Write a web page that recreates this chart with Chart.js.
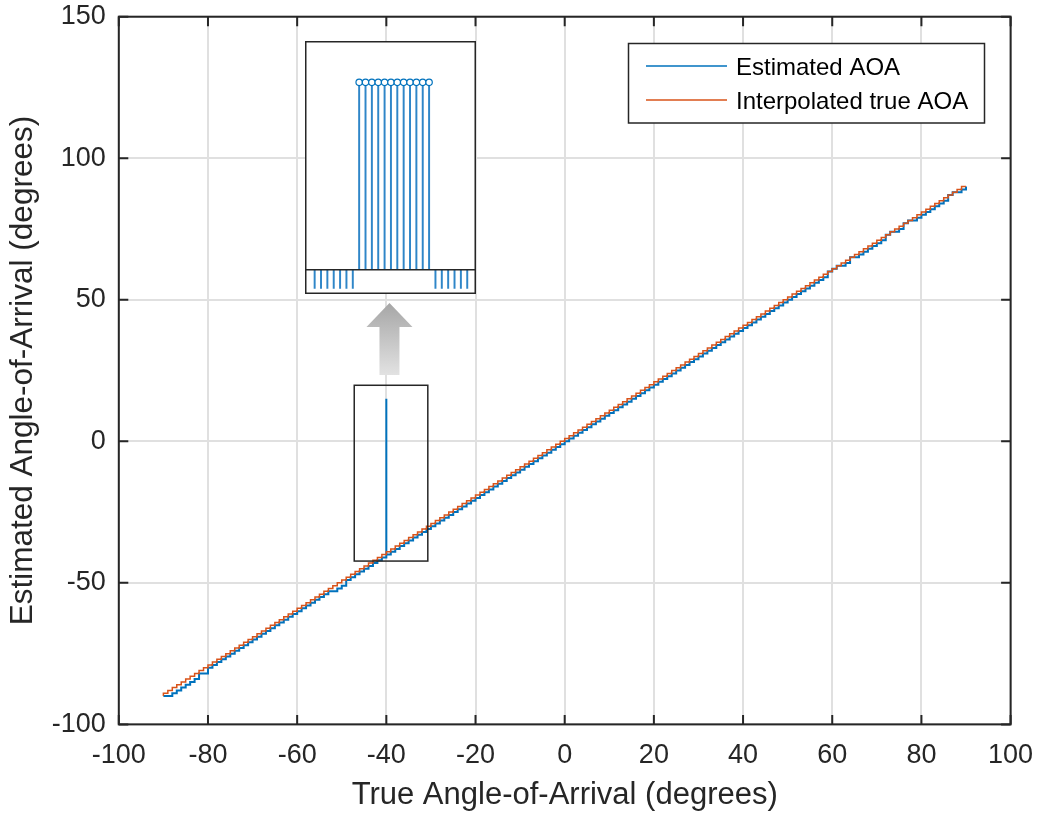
<!DOCTYPE html>
<html>
<head>
<meta charset="utf-8">
<script src="https://cdn.jsdelivr.net/npm/chart.js@4.4.1/dist/chart.umd.min.js"></script>
<style>
html,body{margin:0;padding:0;background:#fff;overflow:hidden}
#wrap{position:relative;width:1039px;height:816px}
#main{position:absolute;left:0;top:0;width:1039px;height:816px}
#inset{position:absolute;left:305px;top:41px;width:171px;height:253px}
</style>
</head>
<body>
<div id="wrap">
<canvas id="main" width="1039" height="816"></canvas>
<canvas id="inset" width="171" height="253"></canvas>
</div>
<script>
// ---------------- data ----------------
const angles = [-90,-89,-88,-87,-86,-85,-84,-83,-82,-81,-80,-79,-78,-77,-76,-75,-74,-73,-72,-71,-70,-69,-68,-67,-66,-65,-64,-63,-62,-61,-60,-59,-58,-57,-56,-55,-54,-53,-52,-51,-50,-49,-48,-47,-46,-45,-44,-43,-42,-41,-40,-39,-38,-37,-36,-35,-34,-33,-32,-31,-30,-29,-28,-27,-26,-25,-24,-23,-22,-21,-20,-19,-18,-17,-16,-15,-14,-13,-12,-11,-10,-9,-8,-7,-6,-5,-4,-3,-2,-1,0,1,2,3,4,5,6,7,8,9,10,11,12,13,14,15,16,17,18,19,20,21,22,23,24,25,26,27,28,29,30,31,32,33,34,35,36,37,38,39,40,41,42,43,44,45,46,47,48,49,50,51,52,53,54,55,56,57,58,59,60,61,62,63,64,65,66,67,68,69,70,71,72,73,74,75,76,77,78,79,80,81,82,83,84,85,86,87,88,89,90];
const trueAOA = [-90,-89,-88,-87,-86,-85,-84,-83,-82,-81,-80,-79,-78,-77,-76,-75,-74,-73,-72,-71,-70,-69,-68,-67,-66,-65,-64,-63,-62,-61,-60,-59,-58,-57,-56,-55,-54,-53,-52,-51,-50,-49,-48,-47,-46,-45,-44,-43,-42,-41,-40,-39,-38,-37,-36,-35,-34,-33,-32,-31,-30,-29,-28,-27,-26,-25,-24,-23,-22,-21,-20,-19,-18,-17,-16,-15,-14,-13,-12,-11,-10,-9,-8,-7,-6,-5,-4,-3,-2,-1,0,1,2,3,4,5,6,7,8,9,10,11,12,13,14,15,16,17,18,19,20,21,22,23,24,25,26,27,28,29,30,31,32,33,34,35,36,37,38,39,40,41,42,43,44,45,46,47,48,49,50,51,52,53,54,55,56,57,58,59,60,61,62,63,64,65,66,67,68,69,70,71,72,73,74,75,76,77,78,79,80,81,82,83,84,85,86,87,88,89,90];
const estAngles = [-90,-89,-88,-87,-86,-85,-84,-83,-82,-81,-80,-79,-78,-77,-76,-75,-74,-73,-72,-71,-70,-69,-68,-67,-66,-65,-64,-63,-62,-61,-60,-59,-58,-57,-56,-55,-54,-53,-52,-51,-50,-49,-48,-47,-46,-45,-44,-43,-42,-41,-40,-40,-40,-39,-38,-37,-36,-35,-34,-33,-32,-31,-30,-29,-28,-27,-26,-25,-24,-23,-22,-21,-20,-19,-18,-17,-16,-15,-14,-13,-12,-11,-10,-9,-8,-7,-6,-5,-4,-3,-2,-1,0,1,2,3,4,5,6,7,8,9,10,11,12,13,14,15,16,17,18,19,20,21,22,23,24,25,26,27,28,29,30,31,32,33,34,35,36,37,38,39,40,41,42,43,44,45,46,47,48,49,50,51,52,53,54,55,56,57,58,59,60,61,62,63,64,65,66,67,68,69,70,71,72,73,74,75,76,77,78,79,80,81,82,83,84,85,86,87,88,89,90];
const estAOA = [-90,-90,-89,-88,-87,-86,-85,-84,-82,-82,-80,-79,-78,-77,-76,-75,-74,-73,-72,-71,-70,-69,-68,-67,-66,-65,-64,-63,-62,-61,-60,-59,-58,-57,-56,-55,-54,-53,-53,-52,-51,-49,-48,-47,-46,-45,-44,-43,-42,-41,-40,15,-40,-39,-38,-37,-36,-35,-34,-33,-32,-31,-30,-29,-28,-27,-26,-25,-24,-23,-22,-21,-20,-19,-18,-17,-16,-15,-14,-13,-12,-11,-10,-9,-8,-7,-6,-5,-4,-3,-2,-1,0,1,2,3,4,5,6,7,8,9,10,11,12,13,14,15,16,17,18,19,20,21,22,23,24,25,26,27,28,29,30,31,32,33,34,35,36,37,38,39,40,41,42,43,44,45,46,47,48,49,50,51,52,53,54,55,56,57,58,60,61,62,62,63,65,65,66,67,68,69,70,71,73,74,74,75,77,78,78,79,80,81,82,83,84,85,87,88,88,89,90];
const xTicks = [-100,-80,-60,-40,-20,0,20,40,60,80,100];
const yTicks = [-100,-50,0,50,100,150];
const seriesNames = ['Estimated AOA','Interpolated true AOA'];
// zoom box around spike (data coords)
const zoomBoxX = [-47.2, -30.7];
const zoomBoxY = [-42.3, 19.8];
// inset stem plot
const insetIndex = [0,1,2,3,4,5,6,7,8,9,10,11,12,13,14,15,16,17,18,19,20,21,22,23,24];
const insetStem = [0.079,0.079,0.079,0.079,0.079,0.079,0.079,0.851,0.851,0.851,0.851,0.851,0.851,0.851,0.851,0.851,0.851,0.851,0.851,0.079,0.079,0.079,0.079,0.079,0.079];
const insetStrip = 0.079;

const FONT = "'Liberation Sans', Arial, Helvetica, sans-serif";
const BLUE = '#0072BD', ORANGE = '#D95319', AX = '#262626';

function noOverhang(s) { s.paddingLeft = 0; s.paddingRight = 0; s.paddingTop = 0; s.paddingBottom = 0; }

// ---------------- main chart ----------------
const framePlugin = {
  id: 'frame',
  afterDraw(chart) {
    const {ctx, chartArea: a, scales: {x, y}} = chart;
    ctx.save();
    // zoom rectangle around spike
    ctx.strokeStyle = AX; ctx.lineWidth = 1.5;
    const rx0 = x.getPixelForValue(zoomBoxX[0]), rx1 = x.getPixelForValue(zoomBoxX[1]);
    const ry0 = y.getPixelForValue(zoomBoxY[1]), ry1 = y.getPixelForValue(zoomBoxY[0]);
    ctx.strokeRect(rx0, ry0, rx1 - rx0, ry1 - ry0);
    // arrow
    const cx = x.getPixelForValue(-39.3);
    const apex = 303, headBase = 327, bottom = 375, hw = 23, sw = 10;
    const g = ctx.createLinearGradient(0, apex, 0, bottom);
    g.addColorStop(0, '#a6a6a6'); g.addColorStop(1, '#e2e2e2');
    ctx.fillStyle = g;
    ctx.beginPath();
    ctx.moveTo(cx, apex); ctx.lineTo(cx + hw, headBase); ctx.lineTo(cx + sw, headBase);
    ctx.lineTo(cx + sw, bottom); ctx.lineTo(cx - sw, bottom); ctx.lineTo(cx - sw, headBase);
    ctx.lineTo(cx - hw, headBase); ctx.closePath(); ctx.fill();
    // axes box
    ctx.strokeStyle = AX; ctx.lineWidth = 2;
    ctx.strokeRect(a.left, a.top, a.right - a.left, a.bottom - a.top);
    // inward tick marks
    const tl = 9.5;
    ctx.beginPath();
    xTicks.forEach(v => { const px = x.getPixelForValue(v);
      ctx.moveTo(px, a.bottom); ctx.lineTo(px, a.bottom - tl);
      ctx.moveTo(px, a.top); ctx.lineTo(px, a.top + tl); });
    yTicks.forEach(v => { const py = y.getPixelForValue(v);
      ctx.moveTo(a.left, py); ctx.lineTo(a.left + tl, py);
      ctx.moveTo(a.right, py); ctx.lineTo(a.right - tl, py); });
    ctx.stroke();
    // legend
    const lx = 628.5, ly = 43.5, lw = 356, lh = 79.5;
    ctx.fillStyle = '#fff'; ctx.fillRect(lx, ly, lw, lh);
    ctx.strokeStyle = AX; ctx.lineWidth = 1.5; ctx.strokeRect(lx, ly, lw, lh);
    const rows = [[BLUE, 66, 68], [ORANGE, 100, 102]];
    ctx.font = '24px ' + FONT; ctx.fillStyle = '#000'; ctx.textBaseline = 'middle'; ctx.textAlign = 'left';
    rows.forEach((r, i) => {
      ctx.strokeStyle = r[0]; ctx.lineWidth = 1.5;
      ctx.beginPath(); ctx.moveTo(646, r[1]); ctx.lineTo(727, r[1]); ctx.stroke();
      ctx.fillText(seriesNames[i], 736, r[2]);
    });
    ctx.restore();
  }
};

new Chart(document.getElementById('main'), {
  type: 'line',
  data: {
    datasets: [
      { label: seriesNames[0], data: estAngles.map((v, i) => ({x: v, y: estAOA[i]})),
        borderColor: BLUE, borderWidth: 2, stepped: 'before', pointRadius: 0, fill: false, order: 1 },
      { label: seriesNames[1], data: angles.map((v, i) => ({x: v, y: trueAOA[i]})),
        borderColor: ORANGE, borderWidth: 1.5, stepped: 'after', pointRadius: 0, fill: false, order: 0 }
    ]
  },
  options: {
    responsive: false, animation: false, devicePixelRatio: 1,
    layout: { padding: { top: 16.7, right: 28.4, left: 0, bottom: 0 } },
    plugins: { legend: { display: false }, tooltip: { enabled: false } },
    scales: {
      x: {
        type: 'linear', min: -100, max: 100,
        afterBuildTicks(s) { s.ticks = xTicks.map(v => ({value: v})); },
        ticks: { padding: 15, color: AX, font: { family: FONT, size: 27 }, maxRotation: 0, autoSkip: false },
        grid: { color: '#e0e0e0', lineWidth: 2, drawTicks: false },
        border: { display: false },
        title: { display: true, text: 'True Angle-of-Arrival (degrees)', color: AX,
                 font: { family: FONT, size: 31 }, padding: { top: 0, bottom: 2.4 } },
        afterFit(s) { s.height = 91.6; noOverhang(s); }
      },
      y: {
        type: 'linear', min: -100, max: 150,
        afterBuildTicks(s) { s.ticks = yTicks.map(v => ({value: v})); },
        ticks: { padding: 13, color: AX, font: { family: FONT, size: 27 }, autoSkip: false },
        grid: { color: '#e0e0e0', lineWidth: 2, drawTicks: false },
        border: { display: false },
        title: { display: true, text: 'Estimated Angle-of-Arrival (degrees)', color: AX,
                 font: { family: FONT, size: 31.5 }, padding: { top: 4.8, bottom: 0 } },
        afterFit(s) { s.width = 118.8; noOverhang(s); }
      }
    }
  },
  plugins: [framePlugin]
});

// ---------------- inset chart ----------------
const insetPlugin = {
  id: 'insetFrame',
  beforeDraw(chart) {
    const {ctx, width, height} = chart;
    ctx.save(); ctx.fillStyle = '#fff'; ctx.fillRect(0, 0, width, height); ctx.restore();
  },
  afterDraw(chart) {
    const {ctx, width, height, scales: {y}} = chart;
    ctx.save();
    ctx.strokeStyle = AX; ctx.lineWidth = 1.5;
    const sy = y.getPixelForValue(insetStrip);
    ctx.beginPath(); ctx.moveTo(0, sy); ctx.lineTo(width, sy); ctx.stroke();
    ctx.strokeRect(0.75, 0.75, width - 1.5, height - 1.5);
    ctx.restore();
  }
};

new Chart(document.getElementById('inset'), {
  type: 'bar',
  data: {
    datasets: [
      { type: 'bar', data: insetIndex.map((k, i) => ({x: k, y: insetStem[i] > insetStrip ? [insetStrip, insetStem[i]] : [0, insetStem[i]]})),
        backgroundColor: '#2f86c8', barThickness: 1.3, borderWidth: 0, order: 1 },
      { type: 'scatter', data: insetIndex.filter((k, i) => insetStem[i] > insetStrip).map(k => ({x: k, y: insetStem[k]})),
        pointRadius: 3.2, pointStyle: 'circle', borderColor: BLUE, backgroundColor: '#fff', borderWidth: 1.2, order: 0 }
    ]
  },
  options: {
    responsive: false, animation: false, devicePixelRatio: 1,
    layout: { padding: 0 },
    plugins: { legend: { display: false }, tooltip: { enabled: false } },
    scales: {
      x: { type: 'linear', min: -0.7, max: 24.56, offset: false, display: false },
      y: { type: 'linear', min: 0, max: 1, display: false }
    }
  },
  plugins: [insetPlugin]
});
</script>
</body>
</html>
